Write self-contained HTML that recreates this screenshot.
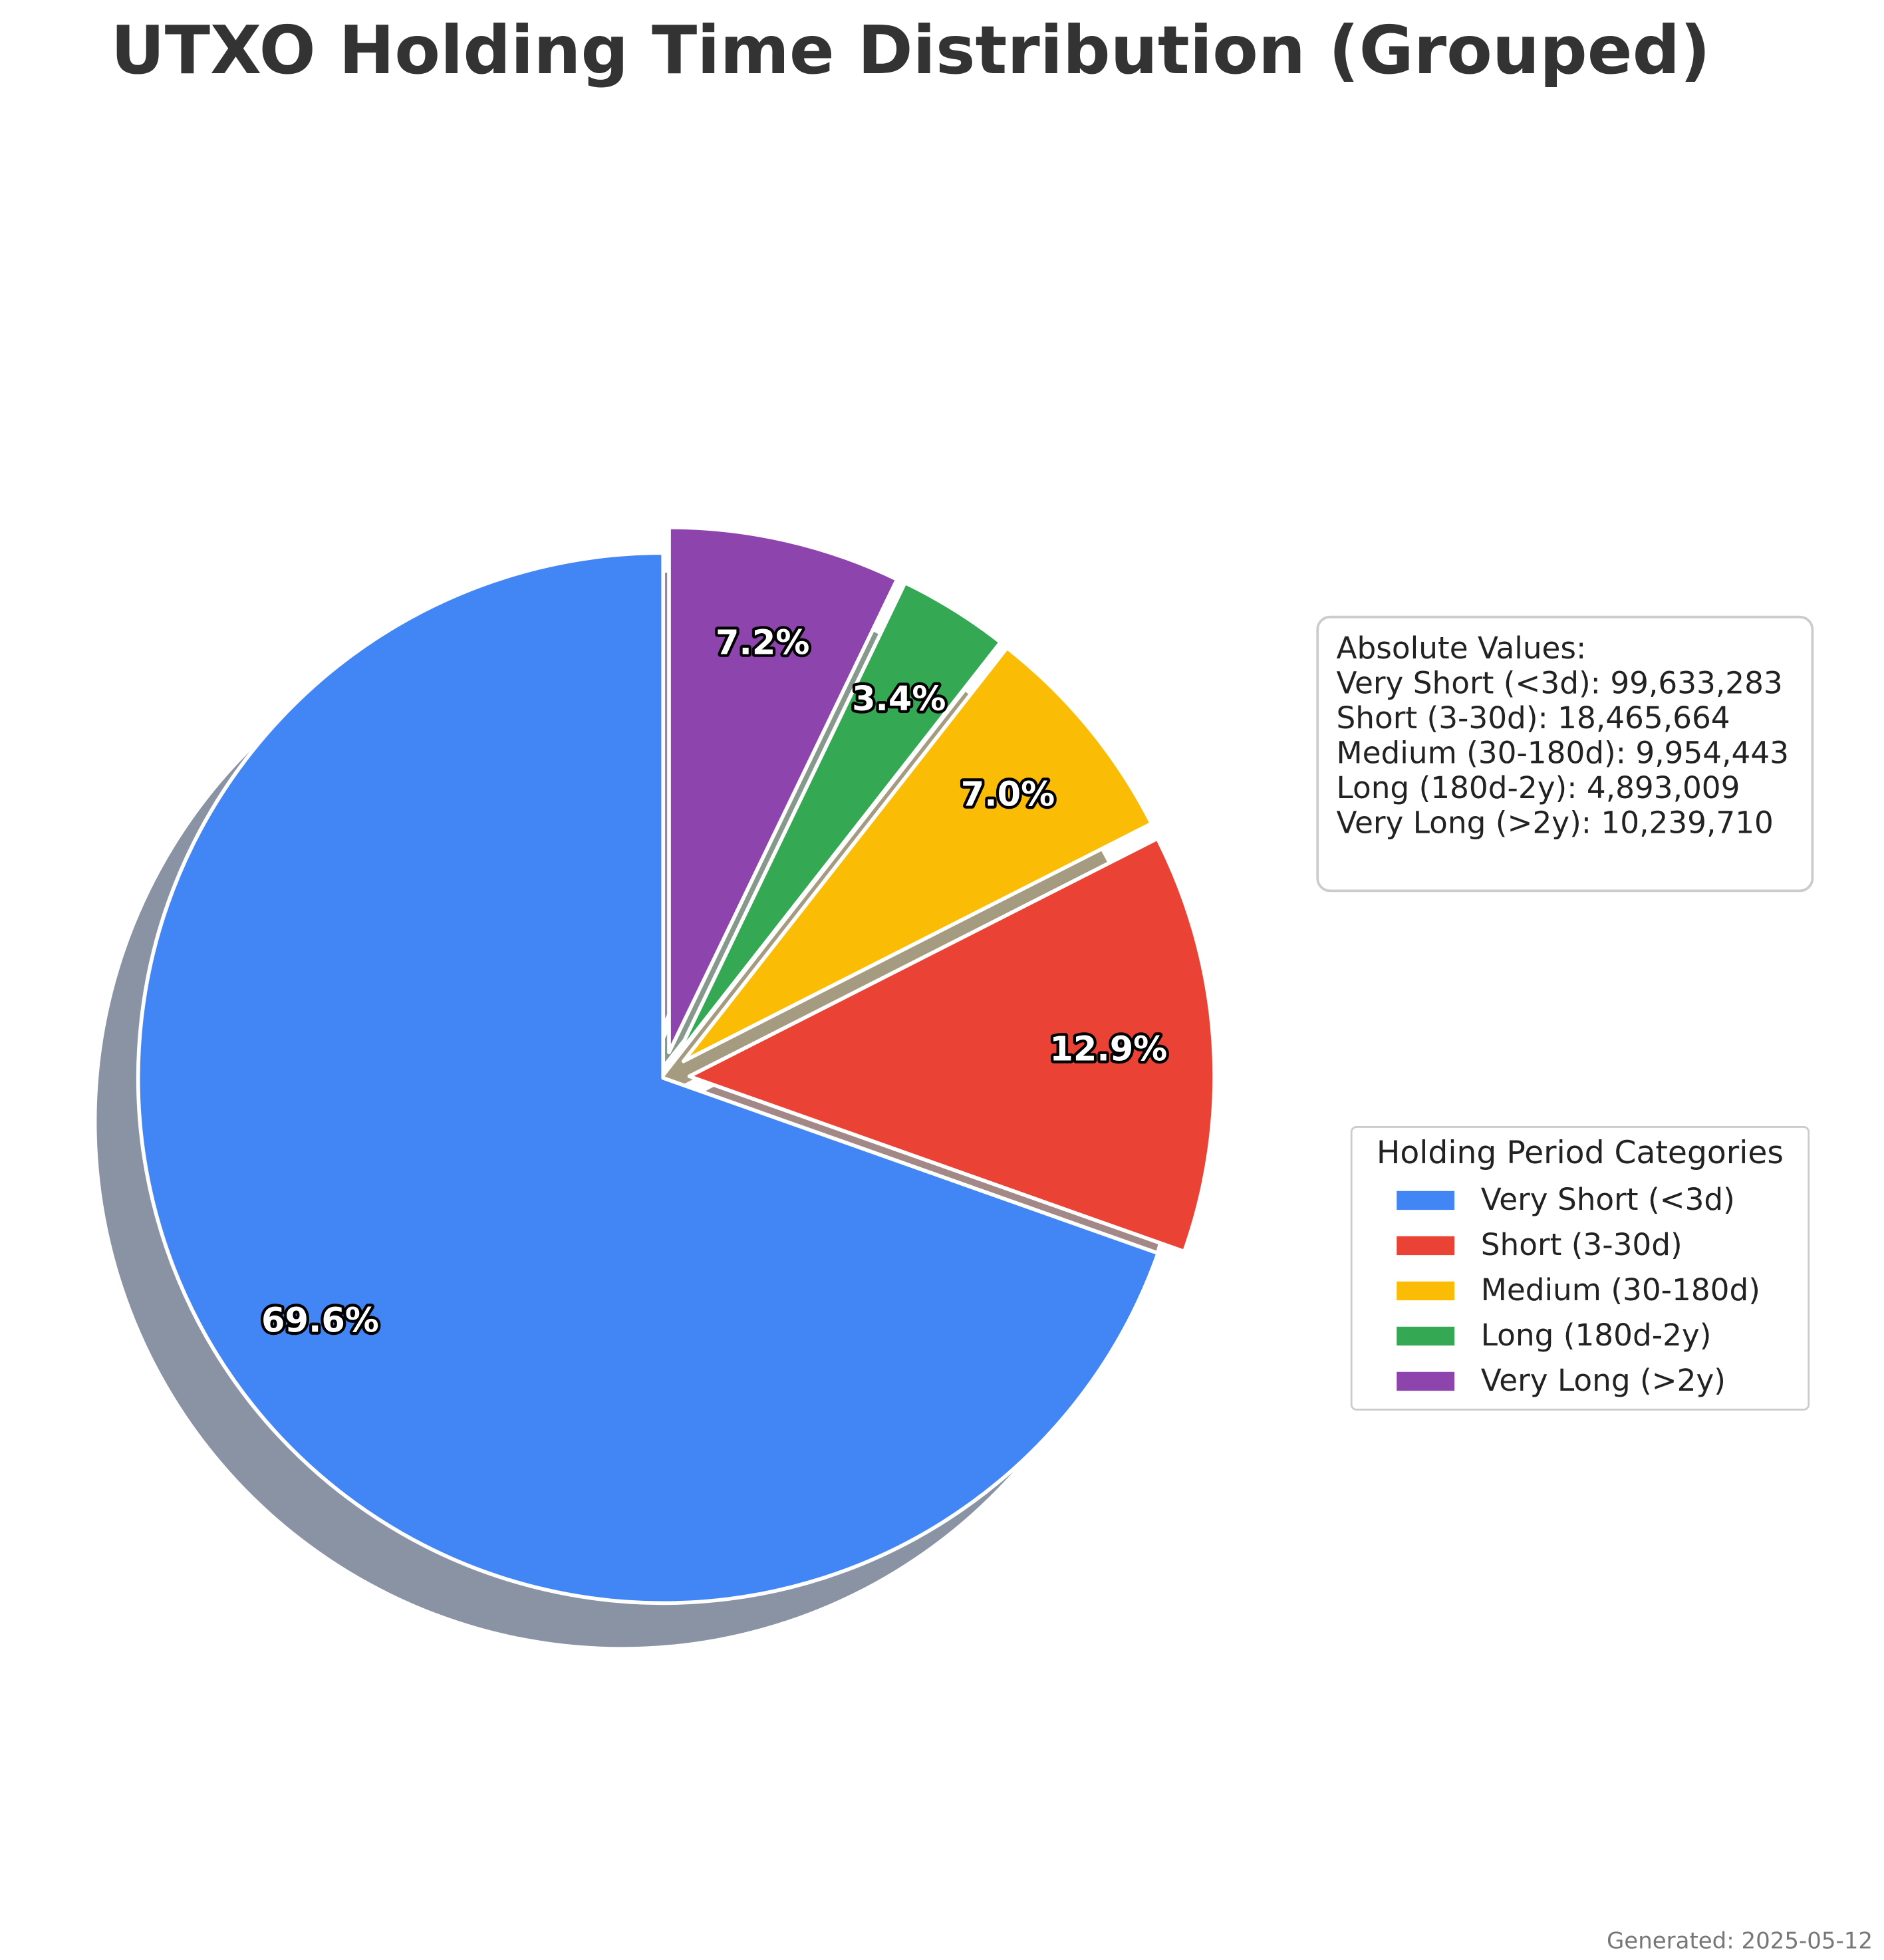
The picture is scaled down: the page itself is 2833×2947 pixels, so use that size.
<!DOCTYPE html>
<html><head><meta charset="utf-8"><style>
html,body{margin:0;padding:0;background:#fff;}
svg{display:block;font-family:"DejaVu Sans","Liberation Sans",sans-serif;}
</style></head><body>
<svg id="chart" width="2833" height="2947" viewBox="0 0 1500 1560" xmlns="http://www.w3.org/2000/svg">
<text x="725" y="58" text-anchor="middle" font-size="53" font-weight="bold" fill="#333">UTXO Holding Time Distribution (Grouped)</text>
<g id="shadows"></g>
<g id="wedges"></g>
<g id="labels"></g>
<g>
<rect x="1049" y="491" width="394" height="218" rx="10" fill="#fff" stroke="#ccc" stroke-width="2"/>
<g id="absText" font-size="24" fill="#222"></g>
</g>
<g>
<rect x="1076" y="897" width="364" height="225" rx="4" fill="#fff" stroke="#ccc" stroke-width="1.5"/>
<text x="1258" y="926" text-anchor="middle" font-size="25" fill="#222">Holding Period Categories</text>
<g id="legendItems"></g>
</g>
<text x="1491" y="1551" text-anchor="end" font-size="18" fill="#777">Generated: 2025-05-12</text>
</svg>
<script>
const categories = ["Very Short (<3d)", "Short (3-30d)", "Medium (30-180d)", "Long (180d-2y)", "Very Long (>2y)"];
const values = [99633283, 18465664, 9954443, 4893009, 10239710];
const explodes = [0, 0.05, 0.05, 0.05, 0.05];
const colors = ["#4285F4", "#EA4335", "#FBBC05", "#34A853", "#8E44AD"];
const NS = "http://www.w3.org/2000/svg";
const cx = 528, cy = 858, R = 418, sdx = -33, sdy = 35;
const total = values.reduce((a, b) => a + b, 0);
function pt(a, r, ox, oy) { return [ox + r * Math.cos(a), oy - r * Math.sin(a)]; }
function wedgePath(a0, a1, ox, oy) {
  const p0 = pt(a0, R, ox, oy), p1 = pt(a1, R, ox, oy);
  const large = (a1 - a0) > Math.PI ? 1 : 0;
  return `M${ox},${oy} L${p0[0]},${p0[1]} A${R},${R} 0 ${large} 0 ${p1[0]},${p1[1]} Z`;
}
function mk(tag, attrs) { const e = document.createElementNS(NS, tag); for (const k in attrs) e.setAttribute(k, attrs[k]); return e; }
function shade(hex) {
  const n = parseInt(hex.slice(1), 16);
  const r = (n >> 16) & 255, g = (n >> 8) & 255, b = n & 255;
  return `rgb(${Math.round(r * 0.3)},${Math.round(g * 0.3)},${Math.round(b * 0.3)})`;
}
let ang = Math.PI / 2;
const sh = document.getElementById('shadows'), wg = document.getElementById('wedges'), lb = document.getElementById('labels');
values.forEach((v, i) => {
  const frac = v / total, a0 = ang, a1 = ang + frac * 2 * Math.PI, mid = (a0 + a1) / 2;
  const ox = cx + explodes[i] * R * Math.cos(mid), oy = cy - explodes[i] * R * Math.sin(mid);
  const s = mk('path', { d: wedgePath(a0, a1, ox + sdx, oy + sdy), fill: shade(colors[i]), 'fill-opacity': 0.5 });
  
  
  sh.appendChild(s);
  const w = mk('path', { d: wedgePath(a0, a1, ox, oy), fill: colors[i], stroke: '#fff', 'stroke-width': 3, 'stroke-linejoin': 'round' });
  
  
  wg.appendChild(w);
  const lp = pt(mid, 0.8 * R, ox, oy);
  const t = mk('text', { x: lp[0], y: lp[1] + 9, 'text-anchor': 'middle', 'font-size': 27, 'font-weight': 'bold', fill: '#fff', stroke: '#000', 'stroke-width': 4.5, 'paint-order': 'stroke', 'stroke-linejoin': 'round' });
  t.textContent = (frac * 100).toFixed(1) + '%';
  
  
  lb.appendChild(t);
  ang = a1;
});
const abs = document.getElementById('absText');
const lines = ["Absolute Values:"].concat(categories.map((c, i) => c + ": " + values[i].toLocaleString('en-US')));
lines.forEach((l, i) => {
  const t = mk('text', { x: 1064, y: 524 + i * 27.8 });
  t.textContent = l;
  
  
  abs.appendChild(t);
});
const li = document.getElementById('legendItems');
categories.forEach((c, i) => {
  const y = 955 + i * 36;
  const r = mk('rect', { x: 1112, y: y - 7, width: 46, height: 15, fill: colors[i] });
  
  
  li.appendChild(r);
  const t = mk('text', { x: 1179, y: y + 8, 'font-size': 24, fill: '#222' });
  t.textContent = c;
  
  
  li.appendChild(t);
});
</script>
</body></html>
